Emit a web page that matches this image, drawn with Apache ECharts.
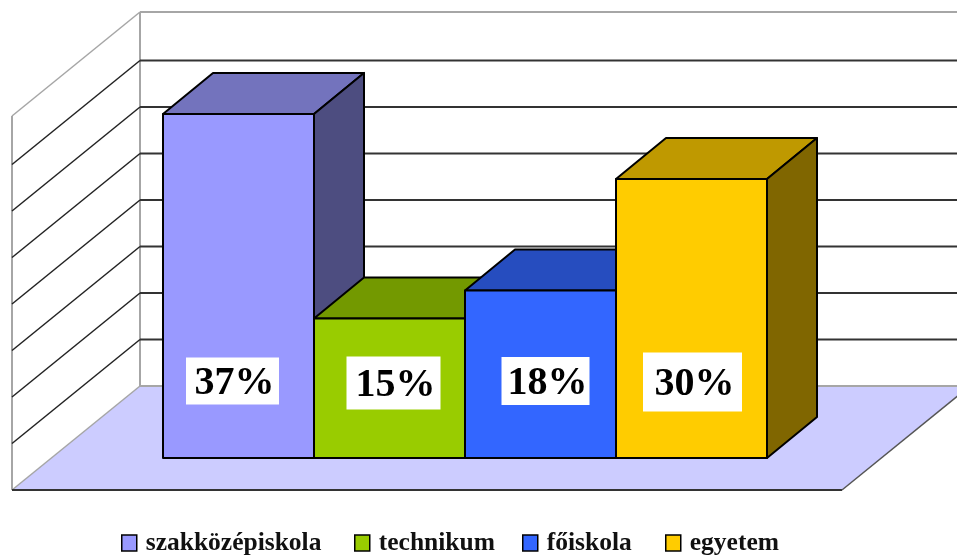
<!DOCTYPE html>
<html>
<head>
<meta charset="utf-8">
<style>html,body{margin:0;padding:0;background:#fff}#c{width:957px;height:557px;filter:blur(0.5px)}</style>
<script src="https://cdn.jsdelivr.net/npm/echarts@6/dist/echarts.min.js"></script>
</head>
<body>
<div id="c"></div>
<script>
const categories = ['szakközépiskola', 'technikum', 'főiskola', 'egyetem'];
const values = [37, 15, 18, 30];
const valueLabels = ['37%', '15%', '18%', '30%'];
const tickValues = [0, 5, 10, 15, 20, 25, 30, 35, 40];
const frontColors = ['#9999ff', '#99cc00', '#3366ff', '#ffcc00'];
const topColors = ['#7373bd', '#739900', '#264dbf', '#bf9900'];
const sideColors = ['#4d4d80', '#4d6600', '#1a3380', '#806600'];

// Pixel offsets of the fake 3D view relative to the value plane
const WALL = { frontLeft: -151, backLeft: -23, backRight: 203, frontRight: 75, front: 32, back: -72 };
const TOP_NUDGE = -2;
const BAR_DX = 50, BAR_DY = -41;
const LEGEND_LEFT = [121, 354, 522, 665];
// label box: dx from band centre, centre y, width, height
const BOXES = [
  { dx: -6, y: 381, w: 93, h: 47 },
  { dx: 4, y: 383, w: 94, h: 53 },
  { dx: 5, y: 381, w: 88, h: 48 },
  { dx: 1, y: 382, w: 99, h: 59 }
];

const chart = echarts.init(document.getElementById('c'), null, { renderer: 'canvas' });

function floorItem(params, api) {
  const o = api.coord([0, 0]);
  const halfBand = api.size([1, 0])[0] / 2;
  const x0 = o[0] - halfBand;
  const x1 = x0 + 4 * api.size([1, 0])[0];
  const y = o[1];
  const pts = [
    [x0 + WALL.frontLeft, y + WALL.front], [x0 + WALL.backLeft, y + WALL.back],
    [x1 + WALL.backRight, y + WALL.back], [x1 + WALL.frontRight, y + WALL.front]
  ];
  const top = api.coord([0, 40])[1] + TOP_NUDGE;
  const gray = { stroke: '#a6a6a6', lineWidth: 2 };
  return { type: 'group', children: [
    { type: 'polygon', shape: { points: pts }, style: { fill: '#ccccff' } },
    { type: 'line', shape: { x1: x0 + WALL.frontLeft, y1: y + WALL.front, x2: x0 + WALL.frontLeft, y2: top + WALL.front }, style: gray },
    { type: 'line', shape: { x1: x0 + WALL.backLeft, y1: y + WALL.back, x2: x0 + WALL.backLeft, y2: top + WALL.back }, style: gray },
    { type: 'line', shape: { x1: pts[0][0], y1: pts[0][1], x2: pts[1][0], y2: pts[1][1] }, style: { stroke: '#a6a6a6', lineWidth: 1.5 } },
    { type: 'line', shape: { x1: pts[1][0], y1: pts[1][1], x2: pts[2][0], y2: pts[2][1] }, style: gray },
    { type: 'line', shape: { x1: pts[0][0], y1: pts[0][1], x2: pts[3][0], y2: pts[3][1] }, style: { stroke: '#333', lineWidth: 2 } },
    { type: 'line', shape: { x1: pts[3][0], y1: pts[3][1], x2: pts[2][0], y2: pts[2][1] }, style: { stroke: '#555', lineWidth: 1.5 } }
  ] };
}

function gridItem(params, api) {
  const t = api.value(1);
  if (t === 0) return null;
  const o = api.coord([0, t]);
  const band = api.size([1, 0])[0];
  const x0 = o[0] - band / 2;
  const x1 = x0 + 4 * band;
  const isTop = t === 40;
  const y = o[1] + (isTop ? TOP_NUDGE : 0);
  const col = isTop ? '#a6a6a6' : '#333';
  return { type: 'group', children: [
    { type: 'line', shape: { x1: x0 + WALL.frontLeft, y1: y + WALL.front, x2: x0 + WALL.backLeft, y2: y + WALL.back }, style: { stroke: isTop ? '#a6a6a6' : '#222', lineWidth: 1.5 } },
    { type: 'line', shape: { x1: x0 + WALL.backLeft, y1: y + WALL.back, x2: x1 + WALL.backRight, y2: y + WALL.back }, style: { stroke: col, lineWidth: 2 } }
  ] };
}

function barItem(i) {
  return function (params, api) {
    const top = api.coord([i, api.value(1)]);
    const base = api.coord([i, 0]);
    const band = api.size([1, 0])[0];
    const l = top[0] - band / 2, r = top[0] + band / 2;
    const line = { stroke: '#000', lineWidth: 2, lineJoin: 'round' };
    const b = BOXES[i];
    return { type: 'group', children: [
      { type: 'polygon', shape: { points: [[l, top[1]], [l + BAR_DX, top[1] + BAR_DY], [r + BAR_DX, top[1] + BAR_DY], [r, top[1]]] }, style: Object.assign({ fill: topColors[i] }, line) },
      { type: 'polygon', shape: { points: [[r, top[1]], [r + BAR_DX, top[1] + BAR_DY], [r + BAR_DX, base[1] + BAR_DY], [r, base[1]]] }, style: Object.assign({ fill: sideColors[i] }, line) },
      { type: 'rect', shape: { x: l, y: top[1], width: band, height: base[1] - top[1] }, style: Object.assign({ fill: frontColors[i] }, line) },
      { type: 'rect', shape: { x: top[0] + b.dx - b.w / 2, y: b.y - b.h / 2, width: b.w, height: b.h }, style: { fill: '#fff' } },
      { type: 'text', style: { x: top[0] + b.dx + 2, y: b.y + 3, text: valueLabels[i], fill: '#000', align: 'center', verticalAlign: 'middle', font: 'bold 40px "Liberation Serif", serif' } }
    ] };
  };
}

const series = [
  { name: '_floor', type: 'custom', silent: true, renderItem: floorItem, data: [[0, 0]], z: 1 },
  { name: '_grid', type: 'custom', silent: true, renderItem: gridItem, data: tickValues.map(t => [0, t]), z: 2 }
];
categories.forEach((c, i) => series.push({
  name: c, type: 'custom', renderItem: barItem(i), data: [[i, values[i]]], z: 3 + i,
  itemStyle: { color: frontColors[i] }, encode: { x: 0, y: 1 }
}));

chart.setOption({
  animation: false,
  backgroundColor: '#fff',
  grid: { left: 163, right: 190, top: 86, bottom: 99 },
  xAxis: { type: 'category', data: categories, show: false },
  yAxis: { type: 'value', min: 0, max: 40, interval: 5, show: false },
  legend: categories.map((c, i) => ({
    data: [c], left: LEGEND_LEFT[i], top: 530, padding: 0, icon: 'rect', itemWidth: 15, itemHeight: 16,
    itemStyle: { borderColor: '#000', borderWidth: 1.5 },
    textStyle: { fontFamily: '"Liberation Serif", serif', fontWeight: 'bold', fontSize: 25.5, color: '#111', padding: [4, 0, 0, 4] }
  })),
  series
});
</script>
</body>
</html>
